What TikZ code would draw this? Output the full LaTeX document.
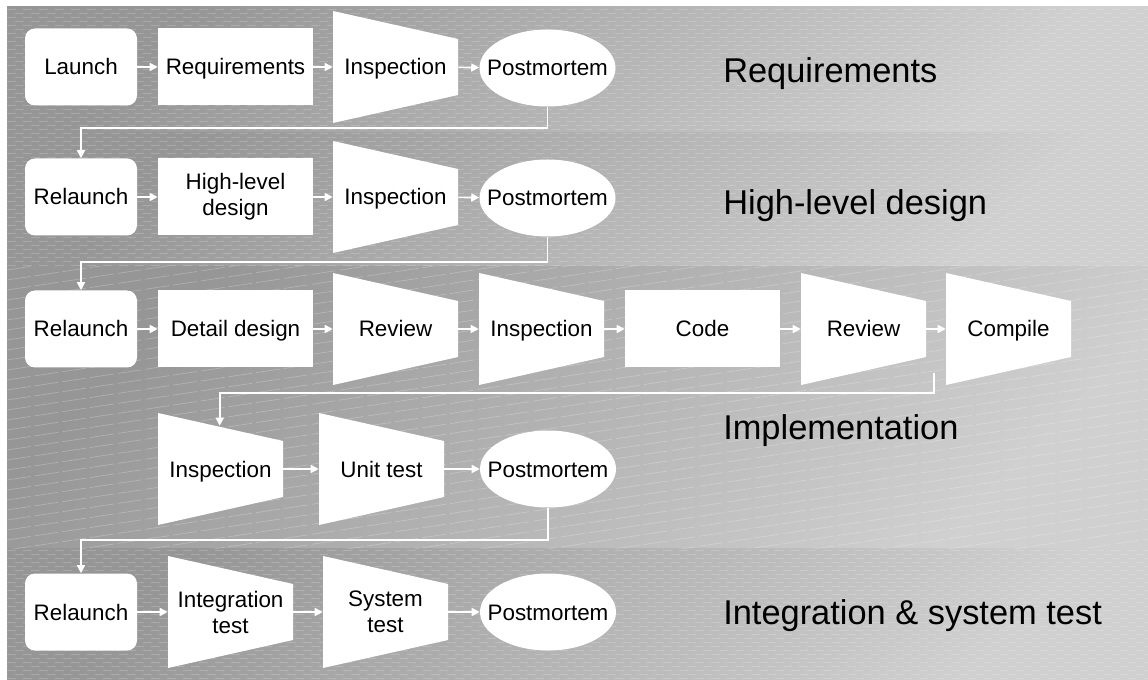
\documentclass[tikz,border=0pt]{standalone}
\usepackage{fontspec}
\setmainfont{Liberation Sans}
\usetikzlibrary{arrows.meta,calc}
\definecolor{bandDark}{RGB}{150,150,150}
\definecolor{bandLight}{RGB}{208,208,208}
\newcommand\myNodeFont{\fontsize{16.8}{19.5}\selectfont}
\newcommand\myPhaseFont{\fontsize{25.8}{30}\selectfont}
\tikzset{
  band/.style={shading=axis, top color=bandDark, bottom color=bandLight, shading angle=45, draw=none},
  texh/.style={draw=white, opacity=0.18, line width=0.7pt, dash pattern=on 7pt off 5pt},
  texd/.style={draw=white, opacity=0.25, line width=0.5pt, dash pattern=on 18pt off 3pt},
  common/.style={inner sep=0pt, align=center, font=\myNodeFont, text=black},
  oneline/.style={text height=12pt, text depth=0pt},
  startbox/.style={common, oneline, fill=white, rounded corners=7.5pt, minimum width=84pt, minimum height=57.75pt},
  stepbox/.style={common, fill=white, minimum width=116.25pt, minimum height=57.75pt},
  trapbox/.style={common, minimum width=93.75pt, minimum height=84pt,
    path picture={\fill[white] (path picture bounding box.north west)
      -- ([yshift=-21pt]path picture bounding box.north east)
      -- ([yshift=21pt]path picture bounding box.south east)
      -- (path picture bounding box.south west) -- cycle;}},
  ovalbox/.style={common, oneline, minimum width=102pt, minimum height=57.75pt,
    path picture={\fill[white] (path picture bounding box.center) ellipse [x radius=51pt, y radius=28.875pt];}},
  flow/.style={draw=white, line width=1.2pt, -{Triangle[length=6pt,width=6pt]}},
  phase/.style={anchor=west, inner sep=0pt, font=\myPhaseFont, text=black, text height=18.5pt, text depth=0pt}
}
\begin{document}
\begin{tikzpicture}[x=0.75pt,y=-0.75pt]
\useasboundingbox (0,0) rectangle (1148,680);
\fill[white] (0,0) rectangle (1148,680);
% bands
\shade[band] (7,7) rectangle (1148,133);
\shade[band] (7,133) rectangle (1148,267);
\shade[band] (7,267) rectangle (1148,548);
\shade[band] (7,548) rectangle (1148,680);
% textures
\begin{scope}
  \clip (7,7) rectangle (1148,267);
  \foreach \yy in {9,17,...,267} {\draw[texh] (7,\yy) -- (1148,\yy);}
  \foreach \yy in {13,21,...,267} {\draw[texh, dash phase=6pt] (7,\yy) -- (1148,\yy);}
\end{scope}
\begin{scope}
  \clip (7,548) rectangle (1148,680);
  \foreach \yy in {550,558,...,680} {\draw[texh] (7,\yy) -- (1148,\yy);}
  \foreach \yy in {554,562,...,680} {\draw[texh, dash phase=6pt] (7,\yy) -- (1148,\yy);}
\end{scope}
\begin{scope}
  \clip (7,267) rectangle (1148,548);
  \foreach \c in {270,280,...,720} {\draw[texd] (7,\c) -- (1148,{\c-171});}
\end{scope}

% band 1
\node[startbox] (launch) at (81,67) {Launch};
\node[stepbox, oneline] (req) at (235.5,67) {Requirements};
\node[trapbox, oneline] (insp1) at (395.5,67) {Inspection};
\node[ovalbox] (pm1) at (547.5,68) {Postmortem};
\node[phase] (ph1) at (723,70) {Requirements};

% band 2
\node[startbox] (rel1) at (81,197) {Relaunch};
\node[stepbox] (hld) at (235.5,197) {High-level\\design};
\node[trapbox, oneline] (insp2) at (395.5,197) {Inspection};
\node[ovalbox] (pm2) at (547.5,198) {Postmortem};
\node[phase] (ph2) at (723,202) {High-level design};

% band 3
\node[startbox] (rel2) at (81,329) {Relaunch};
\node[stepbox, oneline] (dd) at (235.5,329) {Detail design};
\node[trapbox, oneline] (rev1) at (395.5,329) {Review};
\node[trapbox, oneline] (insp3) at (541.5,329) {Inspection};
\node[stepbox, oneline] (code) at (702.5,329) {Code};
\node[trapbox, oneline] (rev2) at (863.5,329) {Review};
\node[trapbox, oneline] (comp) at (1008.5,329) {Compile};
\node[trapbox, oneline] (insp4) at (220.5,469) {Inspection};
\node[trapbox, oneline] (ut) at (381.5,469) {Unit test};
\node[ovalbox] (pm3) at (548,469) {Postmortem};
\node[phase] (ph3) at (723,427) {Implementation};

% band 4
\node[startbox] (rel3) at (81,612) {Relaunch};
\node[trapbox] (it) at (230.5,612) {Integration\\test};
\node[trapbox] (st) at (385.5,612) {System\\test};
\node[ovalbox] (pm4) at (548,612) {Postmortem};
\node[phase] (ph4) at (723,612) {Integration \& system test};

% arrows within rows
\draw[flow] (launch) -- (req);
\draw[flow] (req) -- (insp1);
\draw[flow] (insp1) -- (pm1);
\draw[flow] (rel1) -- (hld);
\draw[flow] (hld) -- (insp2);
\draw[flow] (insp2) -- (pm2);
\draw[flow] (rel2) -- (dd);
\draw[flow] (dd) -- (rev1);
\draw[flow] (rev1) -- (insp3);
\draw[flow] (insp3) -- (code);
\draw[flow] (code) -- (rev2);
\draw[flow] (rev2) -- (comp);
\draw[flow] (insp4) -- (ut);
\draw[flow] (ut) -- (pm3);
\draw[flow] (rel3) -- (it);
\draw[flow] (it) -- (st);
\draw[flow] (st) -- (pm4);

% connectors between bands
\coordinate (j1) at (0,128);
\coordinate (j2) at (0,262);
\coordinate (c3) at (934,373);
\coordinate (j3) at (0,393);
\coordinate (t3) at ([shift={(62,13)}]insp4.north west);
\coordinate (j4) at (0,540);
\draw[flow] (pm1.south) -- (pm1.south |- j1) -| (rel1.north);
\draw[flow] (pm2.south) -- (pm2.south |- j2) -| (rel2.north);
\draw[flow] (c3) -- (c3 |- j3) -| (t3);
\draw[flow] (pm3.south) -- (pm3.south |- j4) -| (rel3.north);
\end{tikzpicture}
\end{document}
